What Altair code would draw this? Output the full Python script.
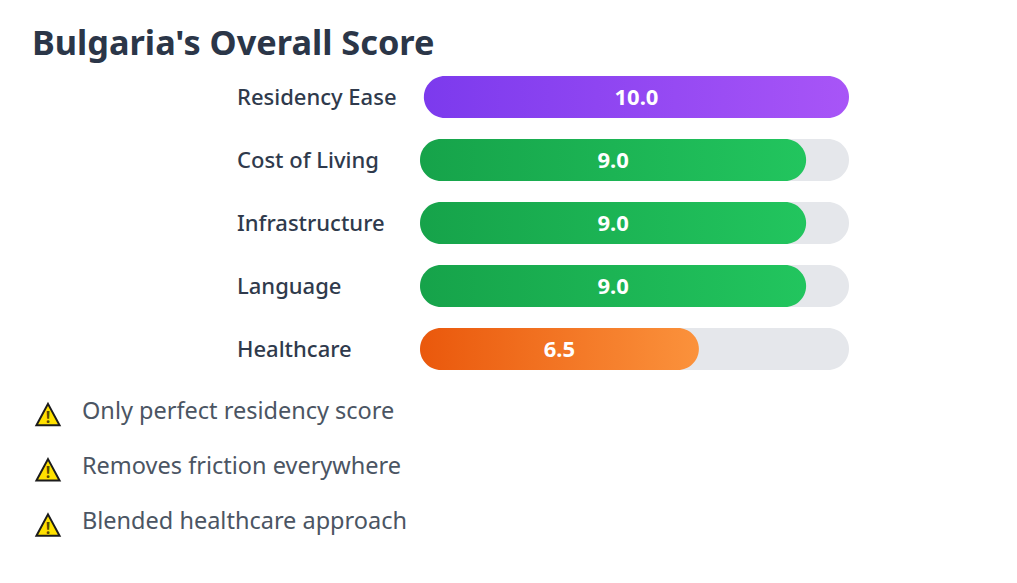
import altair as alt
import pandas as pd

title_text = "Bulgaria's Overall Score"
categories = ["Residency Ease", "Cost of Living", "Infrastructure", "Language", "Healthcare"]
scores = [10.0, 9.0, 9.0, 9.0, 6.5]
bar_starts = [0.09, 0, 0, 0, 0]
groups = ["purple", "green", "green", "green", "orange"]
bullets = ["Only perfect residency score", "Removes friction everywhere", "Blended healthcare approach"]
gradient_stops = {
    "purple": ("#7c3aed", "#a855f7"),
    "green": ("#16a34a", "#22c55e"),
    "orange": ("#ea580c", "#fb923c"),
}

FONT = "Noto Sans"
df = pd.DataFrame({"cat": categories, "score": scores, "start": bar_starts, "group": groups})
df["zero"] = 0
df["full"] = 10
df["mid"] = (df["start"] + df["score"]) / 2
df["label"] = df["score"].map(lambda v: f"{v:.1f}")
bdf = pd.DataFrame({"text": bullets, "mark": ["!"] * len(bullets)})
tdf = pd.DataFrame({"text": [title_text]})

xs = alt.Scale(domain=[0, 10], range=[412, 841], nice=False, zero=False)
ys = alt.Scale(type="point", domain=categories, range=[89, 341], padding=0)
yb = alt.Scale(type="point", domain=bullets, range=[408, 518.5], padding=0)
X = lambda f: alt.X(f, type="quantitative", scale=xs, axis=None)
Y = alt.Y("cat:N", scale=ys, axis=None)
YB = alt.Y("text:N", scale=yb, axis=None)

layers = [
    alt.Chart(df[df.group != "purple"]).mark_bar(height=42, cornerRadius=21, color="#e5e7eb")
    .encode(x=X("zero"), x2="full", y=Y)
]
for name, (c0, c1) in gradient_stops.items():
    grad = alt.Gradient(
        gradient="linear", x1=0, x2=1, y1=0, y2=0,
        stops=[alt.GradientStop(offset=0, color=c0), alt.GradientStop(offset=1, color=c1)],
    )
    layers.append(
        alt.Chart(df[df.group == name]).mark_bar(height=42, cornerRadius=21, color=grad)
        .encode(x=X("start"), x2="score", y=Y)
    )
layers += [
    alt.Chart(df).mark_text(font=FONT, fontSize=22, fontWeight=700, color="white", align="center", baseline="middle", dy=1)
    .encode(x=X("mid"), y=Y, text="label:N"),
    alt.Chart(df).mark_text(font=FONT, fontSize=22, fontWeight=500, color="#2f3a4c", align="left", baseline="middle", dy=1)
    .encode(x=alt.value(229), y=Y, text="cat:N"),
    alt.Chart(tdf).mark_text(font=FONT, fontSize=34.3, fontWeight=700, color="#2b3648", align="left", baseline="middle")
    .encode(x=alt.value(24), y=alt.value(37), text="text:N"),
    alt.Chart(bdf).mark_point(shape="M0,-1.1L1.05,0.85L-1.05,0.85Z", size=485, filled=True, fill="#ffe100",
                              stroke="#1c1c1c", strokeWidth=2, opacity=1)
    .encode(x=alt.value(40), y=YB),
    alt.Chart(bdf).mark_text(font=FONT, fontSize=16, fontWeight=700, color="#5a4d00", align="center", baseline="middle", dy=2)
    .encode(x=alt.value(40), y=YB, text="mark:N"),
    alt.Chart(bdf).mark_text(font=FONT, fontSize=23.5, fontWeight=400, color="#4b5563", align="left", baseline="middle", dy=-4.5)
    .encode(x=alt.value(74), y=YB, text="text:N"),
]

chart = (
    alt.layer(*layers)
    .resolve_scale(y="independent")
    .properties(width=1000, height=565, padding=0, autosize=alt.AutoSizeParams(type="none"), background="white")
    .configure_view(stroke=None)
)
chart.save("out.html", embed_options={"renderer": "svg", "actions": False})
